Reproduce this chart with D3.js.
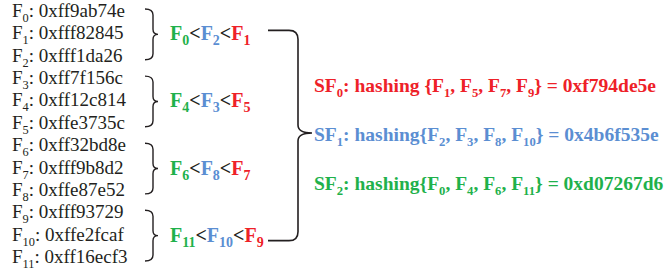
<!DOCTYPE html>
<html>
<head>
<meta charset="utf-8">
<script src="https://cdn.jsdelivr.net/npm/d3@7"></script>
<style>
  body { margin: 0; background: #fff; }
  svg text { font-family: "Liberation Serif", "Times New Roman", serif; }
</style>
</head>
<body>
<div id="container"></div>
<script>
// file fingerprints
const fileIds = [0, 1, 2, 3, 4, 5, 6, 7, 8, 9, 10, 11];
const fileHashes = ['0xff9ab74e', '0xfff82845', '0xfff1da26', '0xff7f156c', '0xff12c814', '0xffe3735c',
  '0xff32bd8e', '0xfff9b8d2', '0xffe87e52', '0xfff93729', '0xffe2fcaf', '0xff16ecf3'];

// sorted order inside each group (smallest, middle, largest)
const groupOrders = [[0, 2, 1], [4, 3, 5], [6, 8, 7], [11, 10, 9]];

// super features
const superIds = [0, 1, 2];
const superMembers = [[1, 5, 7, 9], [2, 3, 8, 10], [0, 4, 6, 11]];
const superHashes = ['0xf794de5e', '0x4b6f535e', '0xd07267d6'];

const rankColors = ['#1fb14b', '#5b8ed2', '#ee2128']; // small, mid, large
const sfColors = ['#ee2128', '#5b8ed2', '#1fb14b'];

const width = 668, height = 273;
const svg = d3.select('#container').append('svg')
  .attr('width', width).attr('height', height);

// row position
const rowY = d3.scaleLinear().domain([0, 11]).range([17, 263]);

// write text with subscripts, parts = [[text, isSub, color]]
function richText(g, x, y, parts, opts) {
  const t = g.append('text')
    .attr('x', x).attr('y', y)
    .style('font-size', opts.size + 'px')
    .style('font-weight', opts.bold ? 'bold' : 'normal')
    .attr('fill', opts.color || '#231f20');
  let down = false;
  const dy = Math.round(opts.size * 0.25);
  parts.forEach(p => {
    const s = t.append('tspan').text(p[0]);
    if (p[1] && !down) { s.attr('dy', dy); down = true; }
    else if (!p[1] && down) { s.attr('dy', -dy); down = false; }
    if (p[1]) s.style('font-size', (opts.size * (opts.sub || 0.65)) + 'px');
    if (p[2]) s.attr('fill', p[2]);
  });
  return t;
}

// left column of file hashes
const left = svg.append('g');
fileIds.forEach((id, i) => {
  richText(left, 12, rowY(i), [['F'], [String(id), true], [': ' + fileHashes[i]]], {size: 19});
});

// curly braces
function bracePath(x0, top, bot, mid) {
  const xs = x0 + 8, xt = x0 + 13, r = 6;
  return `M${x0},${top} Q${xs},${top} ${xs},${top + r} L${xs},${mid - 5}` +
    ` Q${xs},${mid} ${xt},${mid} Q${xs},${mid} ${xs},${mid + 5} L${xs},${bot - r}` +
    ` Q${xs},${bot} ${x0},${bot}`;
}

const braces = svg.append('g');
const groupMid = [];
groupOrders.forEach((ord, gi) => {
  const top = rowY(gi * 3) - 8;
  const bot = rowY(gi * 3 + 2) - 2;
  const mid = (top + bot) / 2;
  groupMid.push(mid);
  braces.append('path')
    .attr('d', bracePath(145, top, bot, mid))
    .attr('fill', 'none').attr('stroke', '#231f20').attr('stroke-width', 1.4);

  const parts = [];
  ord.forEach((f, k) => {
    if (k > 0) parts.push(['<', false, '#231f20']);
    parts.push(['F', false, rankColors[k]]);
    parts.push([String(f), true, rankColors[k]]);
  });
  richText(braces, 170, mid + 6, parts, {size: 20, bold: true, sub: 0.7});
});

// big bracket joining groups to super features
const bx0 = 268, bxs = 298, r = 9;
const bTop = groupMid[0] - 4, bBot = groupMid[3] + 5;
const bTip = 133;
svg.append('path')
  .attr('d', `M${bx0},${bTop} L${bxs - r},${bTop} Q${bxs},${bTop} ${bxs},${bTop + r}` +
    ` L${bxs},${bTip - 8} Q${bxs},${bTip} ${bxs + 14},${bTip}` +
    ` Q${bxs},${bTip} ${bxs},${bTip + 8} L${bxs},${bBot - r} Q${bxs},${bBot} ${bxs - r},${bBot} L${bx0},${bBot}`)
  .attr('fill', 'none').attr('stroke', '#231f20').attr('stroke-width', 1.6);

// super feature lines
const sfY = d3.scaleLinear().domain([0, 2]).range([92, 190]);
superIds.forEach((sid, i) => {
  const parts = [['SF'], [String(sid), true], [': hashing' + (i === 0 ? ' {' : '{')]];
  superMembers[i].forEach((m, k) => {
    parts.push([(k > 0 ? ', ' : '') + 'F']);
    parts.push([String(m), true]);
  });
  parts.push(['} = ' + superHashes[i]]);
  richText(svg, 314, sfY(i), parts, {size: 19.5, bold: true, color: sfColors[i]});
});
</script>
</body>
</html>
